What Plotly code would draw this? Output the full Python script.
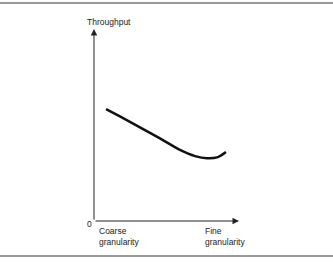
import plotly.graph_objects as go

# Throughput vs granularity (conceptual curve)
granularity = [0.83, 1.79, 3.17, 4.55, 5.93, 6.97, 7.79, 8.55, 9.10]
throughput = [5.83, 5.45, 4.88, 4.30, 3.70, 3.38, 3.27, 3.33, 3.59]

x_labels = ["Coarse<br>granularity", "Fine<br>granularity"]
x_label_pos = [0.21, 7.52]
y_title = "Throughput"
X_MAX, Y_MAX = 10, 10

FONT = dict(family="Liberation Sans, Arial, sans-serif", size=8.5, color="#222")

fig = go.Figure()
fig.add_trace(go.Scatter(x=granularity, y=throughput, mode="lines",
                         line=dict(color="#111", width=2.5, shape="spline", smoothing=0.8),
                         hoverinfo="skip"))

ann = []
# axes arrows
ann.append(dict(x=0, y=Y_MAX, ax=0, ay=0, xref="x", yref="y", axref="x", ayref="y",
                showarrow=True, arrowhead=2, arrowsize=1.3, arrowwidth=1, arrowcolor="#222", text=""))
ann.append(dict(x=X_MAX, y=0, ax=0, ay=0, xref="x", yref="y", axref="x", ayref="y",
                showarrow=True, arrowhead=2, arrowsize=1.3, arrowwidth=1, arrowcolor="#222", text=""))
ann.append(dict(x=1.0 / X_MAX, y=10.36 / Y_MAX, xref="paper", yref="paper", text=y_title,
                showarrow=False, font=FONT, xanchor="center", yanchor="middle"))
ann.append(dict(x=-0.34 / X_MAX, y=-0.16 / Y_MAX, xref="paper", yref="paper", text="0",
                showarrow=False, font=FONT, xanchor="center", yanchor="middle"))
for lbl, xp in zip(x_labels, x_label_pos):
    ann.append(dict(x=xp / X_MAX, y=-0.015, xref="paper", yref="paper", text=lbl,
                    showarrow=False, font=FONT, xanchor="left", yanchor="top", align="left"))

shapes = [
    dict(type="line", xref="paper", yref="paper", x0=-0.65, x1=1.65, y0=1.135, y1=1.135,
         line=dict(color="#777", width=1.5)),
    dict(type="line", xref="paper", yref="paper", x0=-0.65, x1=1.65, y0=-0.182, y1=-0.182,
         line=dict(color="#777", width=1.5)),
]

fig.update_layout(
    width=333, height=262,
    margin=dict(l=94, r=94, t=29, b=41),
    paper_bgcolor="white", plot_bgcolor="white",
    showlegend=False,
    xaxis=dict(range=[0, X_MAX], visible=False, fixedrange=True),
    yaxis=dict(range=[0, Y_MAX], visible=False, fixedrange=True),
    annotations=ann, shapes=shapes,
)

fig.write_html("out.html", config={"displayModeBar": False})
